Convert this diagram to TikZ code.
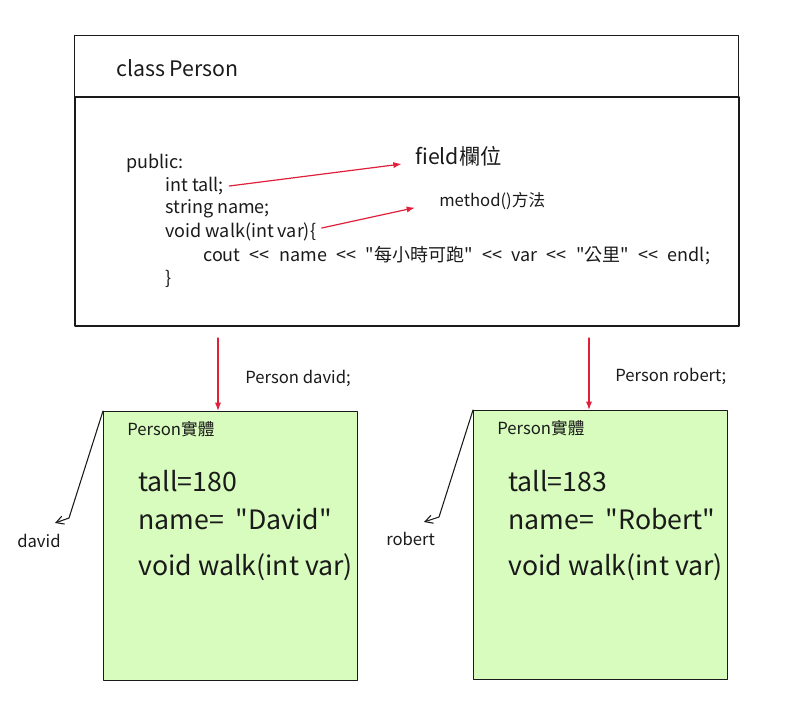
\documentclass[tikz,border=0pt]{standalone}
\usepackage{fontspec}
\setmainfont{Noto Sans CJK TC}[Ligatures=TeXOff]
\usepackage{tikz}
\usetikzlibrary{arrows.meta,positioning}
\definecolor{redarrow}{HTML}{E0203A}
\definecolor{objgreen}{HTML}{D7FCBD}
\definecolor{ink}{HTML}{1A1A1A}
\newcommand\widespaces{\spaceskip=7pt\relax}
\tikzset{
    every picture/.style={line cap=round,line join=round},
    codeline/.style={anchor=west,inner sep=0pt,text=ink,font=\fontsize{13.5}{15}\selectfont},
    notelabel/.style={anchor=west,inner sep=0pt,text=ink,font=\fontsize{12.5}{14}\selectfont},
    objbox/.style={draw=ink,fill=objgreen,line width=0.8pt,
      minimum width=190.5pt,minimum height=201.75pt,inner sep=0pt},
    objfield/.style={anchor=west,inner sep=0pt,text=ink,font=\fontsize{20}{24}\selectfont},
    redflow/.style={-{Latex[length=2.2mm,width=1.6mm]},draw=redarrow,line width=0.9pt},
    refarrow/.style={-{Straight Barb[length=2mm,width=2.2mm]},draw=ink,line width=0.8pt}
}
\begin{document}
\begin{tikzpicture}[x=0.75pt,y=-0.75pt]
  \useasboundingbox (0,0) rectangle (791,713);

  % class box
  \node[draw=ink,line width=0.8pt,minimum width=498pt,minimum height=45.75pt,
        inner sep=0pt,anchor=north west] (head) at (74,35) {};
  \node[draw=ink,line width=1.6pt,minimum width=498pt,minimum height=171.75pt,
        inner sep=0pt,anchor=north west] (body) at (74,96) {};
  \node[anchor=west,inner sep=0pt,text=ink,font=\fontsize{16}{18}\selectfont] (title) at (116,68) {class Person};

  \node[codeline] (pub) at (126,163) {public:};
  \node[codeline] (tall) at (165,186) {int tall;};
  \node[codeline] (name) at (165,209) {string name;};
  \node[codeline] (walk) at (165,232) {void walk(int var)\{};
  \node[codeline] (cout) at (203,256) {\widespaces cout << name << "每小時可跑" << var << "公里" << endl;};
  \node[codeline] (close) at (165,279) {\}};

  \node[anchor=west,inner sep=0pt,text=ink,font=\fontsize{16}{18}\selectfont] (field) at (415,156) {field欄位};
  \node[notelabel] (method) at (439,201) {method()方法};

  \draw[redflow] ([xshift=4pt]tall.east) -- ([xshift=-10pt,yshift=-6pt]field.west);
  \draw[redflow] ([xshift=4pt,yshift=3pt]walk.east) -- ([xshift=-18pt,yshift=-5pt]method.west);

  % objects
  \node[objbox,anchor=north west] (david) at (103,411) {};
  \node[objbox,anchor=north west] (robert) at (473,410) {};

  \coordinate (dtop) at (218,338);
  \coordinate (rtop) at (589,338);
  \draw[redflow] (dtop) -- (dtop |- david.north);
  \draw[redflow] (rtop) -- (rtop |- robert.north);
  \node[notelabel] (newdavid) at (245,378) {Person david;};
  \node[notelabel] (newrobert) at (615,376) {Person robert;};

  \node[notelabel] (dkind) at (127,429) {Person實體};
  \node[objfield] (dtall) at (138,481) {tall=180};
  \node[objfield] (dname) at (138,519) {name= \ "David"};
  \node[objfield] (dwalk) at (138,567) {void walk(int var)};

  \node[notelabel] (rkind) at (497,428) {Person實體};
  \node[objfield] (rtall) at (508,481) {tall=183};
  \node[objfield] (rname) at (508,519) {name= \ "Robert"};
  \node[objfield] (rwalk) at (508,567) {void walk(int var)};

  \node[notelabel] (dvar) at (17,541) {david};
  \node[notelabel] (rvar) at (386,539) {robert};
  \coordinate (dbend) at (69,518);
  \coordinate (dtip) at (55,523);
  \coordinate (rbend) at (439,517);
  \coordinate (rtip) at (424,522);
  \draw[refarrow] (david.north west) -- (dbend) -- (dtip);
  \draw[refarrow] (robert.north west) -- (rbend) -- (rtip);
\end{tikzpicture}
\end{document}
